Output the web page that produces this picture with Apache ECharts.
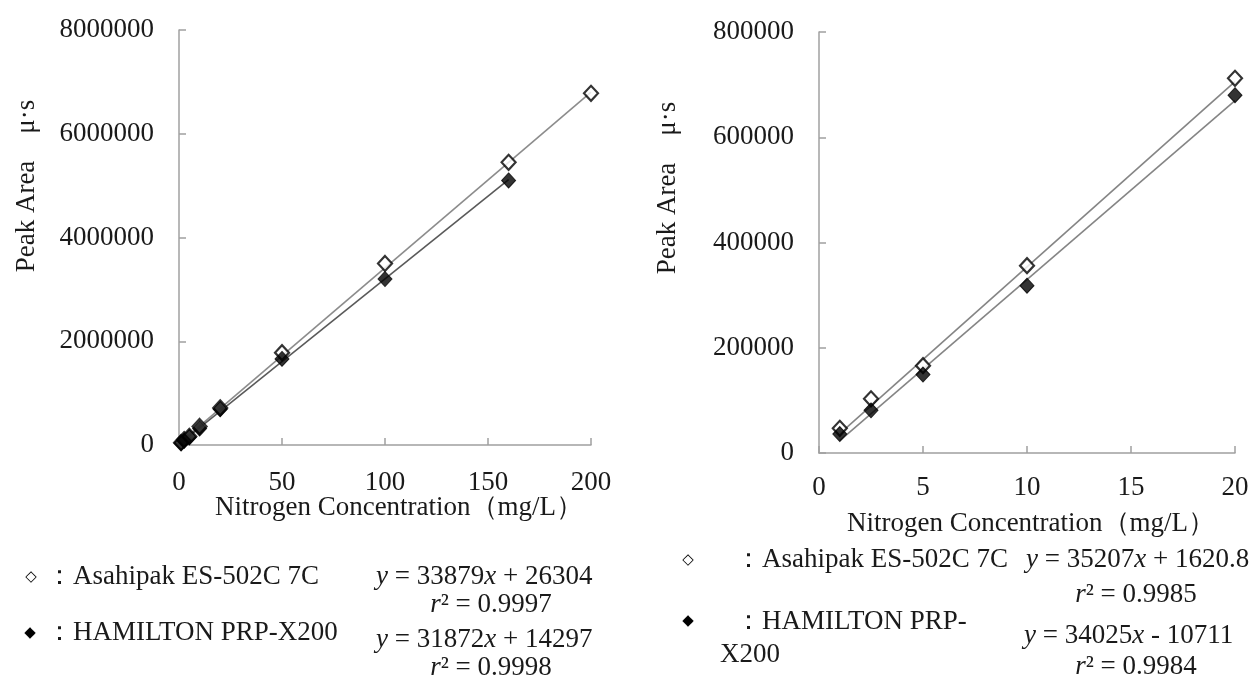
<!DOCTYPE html>
<html>
<head>
<meta charset="utf-8">
<script src="https://cdn.jsdelivr.net/npm/echarts@6/dist/echarts.min.js"></script>
<style>
html,body{margin:0;padding:0;background:#fff;}
#c{width:1259px;height:678px;}
</style>
</head>
<body>
<div id="c"></div>
<script>
// ---- data ----
const seriesNames = ['Asahipak ES-502C 7C', 'HAMILTON PRP-X200'];
// Left chart (0-200 mg/L)
const concLeftAsahi = [1, 2.5, 5, 10, 20, 50, 100, 160, 200];
const areaLeftAsahi = [45000, 103000, 166000, 357000, 715000, 1780000, 3500000, 5450000, 6780000];
const concLeftHam = [1, 2.5, 5, 10, 20, 50, 100, 160];
const areaLeftHam = [36000, 81000, 150000, 320000, 690000, 1660000, 3200000, 5100000];
// Right chart (0-20 mg/L)
const concRight = [1, 2.5, 5, 10, 20];
const areaRightAsahi = [47000, 103000, 166000, 356000, 712000];
const areaRightHam = [36000, 81000, 149000, 318000, 680000];
// Linear fits printed on the chart: [Asahipak, HAMILTON]
const slopeLeft = [33879, 31872];
const interceptLeft = [26304, 14297];
const r2Left = ['0.9997', '0.9998'];
const fitRangeLeft = [[1, 200], [1, 160]];
const slopeRight = [35207, 34025];
const interceptRight = [1620.8, -10711];
const r2Right = ['0.9985', '0.9984'];
const fitRangeRight = [[1, 20], [1, 20]];
// axis ticks [min, max, interval]
const xTicksLeft = [0, 200, 50];
const yTicksLeft = [0, 8000000, 2000000];
const xTicksRight = [0, 20, 5];
const yTicksRight = [0, 800000, 200000];
const yTitle = 'Peak Area\u3000μ·s';
const xTitle = 'Nitrogen Concentration（mg/L）';

const FONT = '"Liberation Serif", "Times New Roman", serif';
const TXT = '#1a1a1a';
const FS = 27;

function pairs(xs, ys) { return xs.map((x, i) => [x, ys[i]]); }
function fitLine(slope, icpt, range) { return range.map(x => [x, slope * x + icpt]); }
function eqText(slope, icpt) {
  const sign = icpt < 0 ? ' - ' : ' + ';
  return '{i|y} = ' + slope + '{i|x}' + sign + Math.abs(icpt);
}

const axisCommon = (idx, t, margin) => ({
  type: 'value', gridIndex: idx, min: t[0], max: t[1], interval: t[2],
  splitLine: { show: false },
  axisLine: { show: true, lineStyle: { color: '#a0a0a0', width: 1.5 } },
  axisTick: { show: true, inside: true, length: 7, lineStyle: { color: '#a0a0a0', width: 1.5 } },
  axisLabel: { color: TXT, fontFamily: FONT, fontSize: FS, margin, formatter: v => String(v) }
});

const hollow = { color: '#fff', borderColor: '#000', borderWidth: 2.2 };
const solid = { color: '#000', borderColor: '#000', borderWidth: 1 };

function scatter(idx, data, style) {
  return { type: 'scatter', xAxisIndex: idx, yAxisIndex: idx, data, symbol: 'diamond', symbolSize: [14, 15], itemStyle: style, z: 5, silent: true };
}
function line(idx, data, color) {
  return { type: 'line', xAxisIndex: idx, yAxisIndex: idx, data, symbol: 'none', lineStyle: { color, width: 1.6 }, z: 3, silent: true };
}

function richFor(size) {
  return { i: { fontStyle: 'italic', fontFamily: FONT, fontSize: size, fill: TXT, color: TXT } };
}
function txt(x, y, text, align, size) {
  const s = size || FS;
  return { type: 'text', x, y, silent: true,
    style: { text, fontFamily: FONT, fontSize: s, fill: TXT, align: align || 'left', verticalAlign: 'middle', rich: richFor(s) } };
}
function sym(x, y, ch) {
  return { type: 'text', x, y, silent: true,
    style: { text: ch, fontFamily: '"DejaVu Sans", sans-serif', fontSize: 15, fontWeight: 'bold', fill: '#000', align: 'center', verticalAlign: 'middle' } };
}
function vtitle(x, y) {
  return { type: 'text', x, y, rotation: Math.PI / 2, silent: true,
    style: { text: yTitle, fontFamily: FONT, fontSize: FS, fill: TXT, align: 'center', verticalAlign: 'middle' } };
}

const chart = echarts.init(document.getElementById('c'));
chart.setOption({
  animation: false,
  backgroundColor: '#fff',
  grid: [
    { left: 179, top: 30, width: 412, height: 415 },
    { left: 819, top: 32, width: 416, height: 421 }
  ],
  xAxis: [ axisCommon(0, xTicksLeft, 24), axisCommon(1, xTicksRight, 21) ],
  yAxis: [ axisCommon(0, yTicksLeft, 25), axisCommon(1, yTicksRight, 25) ],
  series: [
    line(0, fitLine(slopeLeft[0], interceptLeft[0], fitRangeLeft[0]), '#8c8c8c'),
    line(0, fitLine(slopeLeft[1], interceptLeft[1], fitRangeLeft[1]), '#5a5a5a'),
    scatter(0, pairs(concLeftAsahi, areaLeftAsahi), hollow),
    scatter(0, pairs(concLeftHam, areaLeftHam), solid),
    line(1, fitLine(slopeRight[0], interceptRight[0], fitRangeRight[0]), '#858585'),
    line(1, fitLine(slopeRight[1], interceptRight[1], fitRangeRight[1]), '#858585'),
    scatter(1, pairs(concRight, areaRightAsahi), hollow),
    scatter(1, pairs(concRight, areaRightHam), solid)
  ],
  graphic: [
    // axis titles
    vtitle(27, 186),
    vtitle(668, 188),
    txt(399, 508, xTitle, 'center'),
    txt(1031, 524, xTitle, 'center'),
    // left legend
    sym(31, 577, '◇'),
    txt(46, 577, '：' + seriesNames[0]),
    sym(30, 633, '◆'),
    txt(46, 633, '：' + seriesNames[1]),
    txt(376, 577, eqText(slopeLeft[0], interceptLeft[0])),
    txt(491, 605, '{i|r}² = ' + r2Left[0], 'center'),
    txt(376, 640, eqText(slopeLeft[1], interceptLeft[1])),
    txt(491, 668, '{i|r}² = ' + r2Left[1], 'center'),
    // right legend
    sym(688, 560, '◇'),
    txt(735, 560, '：' + seriesNames[0]),
    sym(688, 621, '◆'),
    txt(735, 622, '：HAMILTON PRP-'),
    txt(720, 655, 'X200'),
    txt(1026, 560, eqText(slopeRight[0], interceptRight[0])),
    txt(1136, 595, '{i|r}² = ' + r2Right[0], 'center'),
    txt(1024, 636, eqText(slopeRight[1], interceptRight[1])),
    txt(1136, 667, '{i|r}² = ' + r2Right[1], 'center')
  ]
});
</script>
</body>
</html>
